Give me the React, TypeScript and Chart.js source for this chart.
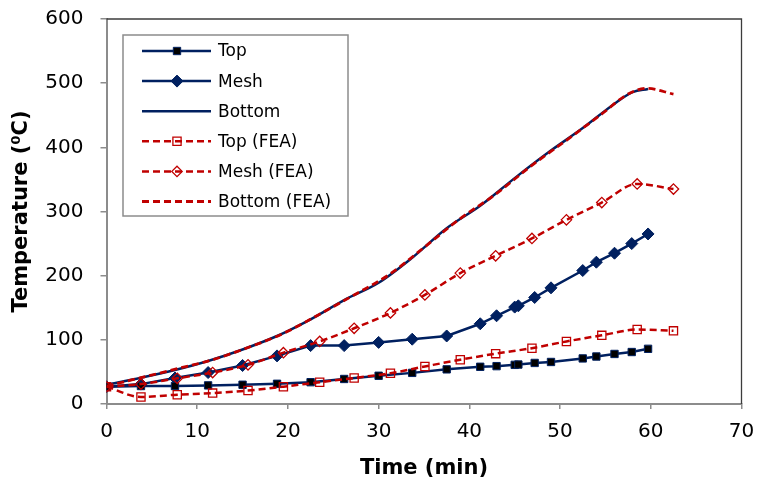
import React, { useEffect, useRef } from 'react';
import { Chart, registerables } from 'chart.js';

Chart.register(...registerables);

// ---- data ----
const timeMeasured = [0, 3.8, 7.55, 11.2, 15.0, 18.8, 22.5, 26.2, 30.0, 33.7, 37.5, 41.2, 43.0, 45.0, 45.4, 47.2, 49.0, 52.5, 54.0, 56.0, 57.9, 59.7];
const topMeasured = [27, 28, 28, 29, 30, 31.5, 34, 39, 44, 48.5, 54, 58, 59, 61, 61.5, 64, 65.5, 71, 74, 78, 81, 86];
const meshMeasured = [27, 31, 40.5, 49, 60, 75, 91, 91, 96, 101, 106, 125, 137.5, 151, 153, 166, 181, 208, 221, 235, 250, 265];

const timeBottom = [0, 3.8, 7.55, 11.2, 15.0, 18.8, 22.5, 26.2, 30.0, 33.7, 37.5, 41.2, 45.0, 48.8, 52.5, 56.0, 58.0, 59.7];
const bottomMeasured = [30, 41, 53, 67, 85, 106, 132, 162, 189, 228, 274, 309, 352, 393, 430, 468, 486, 491];

const timeFEA = [0, 3.8, 7.8, 11.7, 15.6, 19.5, 23.5, 27.3, 31.3, 35.1, 39.0, 42.9, 46.9, 50.7, 54.6, 58.5, 62.5];
const topFEA = [27, 11, 14.5, 17, 21, 27, 34, 40.5, 48, 58.5, 69, 78.5, 87, 97.5, 107, 116, 114];
const meshFEA = [27, 31, 40, 49, 61, 80, 97.5, 118, 142, 170, 204, 231, 258, 287, 314, 343, 335];

const timeBottomFEA = [0, 3.8, 7.8, 11.7, 15.6, 19.5, 23.5, 27.3, 31.3, 35.1, 39.0, 42.9, 46.9, 50.7, 54.6, 57.5, 59.5, 62.5];
const bottomFEA = [28, 41, 55, 69, 88, 110, 140, 170, 203, 245, 289, 327, 372, 411, 452, 483, 492, 483];

const xTicks = [0, 10, 20, 30, 40, 50, 60, 70];
const yTicks = [0, 100, 200, 300, 400, 500, 600];

const seriesLabels = ['Top', 'Mesh', 'Bottom', 'Top (FEA)', 'Mesh (FEA)', 'Bottom (FEA)'];

const NAVY = '#002060';
const RED = '#C00000';
const FONT = "'DejaVu Sans', sans-serif";

const toPts = (xs: number[], ys: number[]) => xs.map((x, i) => ({ x, y: ys[i] }));

function drawMarker(ctx: CanvasRenderingContext2D, style: string, x: number, y: number, r: number, fill: string, stroke: string, lw: number) {
  ctx.save();
  ctx.beginPath();
  if (style === 'rect') {
    const s = Math.SQRT1_2 * r;
    ctx.rect(x - s, y - s, 2 * s, 2 * s);
  } else if (style === 'rectRot') {
    ctx.moveTo(x - r, y);
    ctx.lineTo(x, y - r);
    ctx.lineTo(x + r, y);
    ctx.lineTo(x, y + r);
    ctx.closePath();
  }
  if (fill && fill !== 'transparent') {
    ctx.fillStyle = fill;
    ctx.fill();
  }
  ctx.setLineDash([]);
  ctx.lineWidth = lw;
  ctx.strokeStyle = stroke;
  ctx.stroke();
  ctx.restore();
}

const framePlugin = {
  id: 'frameAndLegend',
  afterDatasetsDraw(chart: any) {
    const ctx: CanvasRenderingContext2D = chart.ctx;
    const a = chart.chartArea;
    ctx.save();
    // top and right border
    ctx.strokeStyle = '#3c3c3c';
    ctx.lineWidth = 1.3;
    ctx.beginPath();
    ctx.moveTo(a.left, a.top);
    ctx.lineTo(a.right, a.top);
    ctx.lineTo(a.right, a.bottom);
    ctx.stroke();

    // legend box
    const bx = 123, by = 35, bw = 225, bh = 181;
    ctx.fillStyle = '#ffffff';
    ctx.fillRect(bx, by, bw, bh);
    ctx.strokeStyle = '#8c8c8c';
    ctx.lineWidth = 1.5;
    ctx.strokeRect(bx, by, bw, bh);

    const rowY0 = 51;
    const rowStep = 30.1;
    const lx0 = 142, lx1 = 211, mx = 177, tx = 218;
    chart.data.datasets.forEach((ds: any, i: number) => {
      const y = rowY0 + i * rowStep;
      ctx.save();
      ctx.strokeStyle = ds.borderColor;
      ctx.lineWidth = ds.borderWidth;
      ctx.setLineDash(ds.borderDash || []);
      ctx.beginPath();
      ctx.moveTo(lx0, y);
      ctx.lineTo(lx1, y);
      ctx.stroke();
      ctx.restore();
      if (ds.pointRadius > 0) {
        drawMarker(ctx, ds.pointStyle, mx, y, ds.pointRadius, ds.pointBackgroundColor, ds.pointBorderColor, ds.pointBorderWidth);
      }
      ctx.fillStyle = '#000';
      ctx.font = `17px ${FONT}`;
      ctx.textBaseline = 'middle';
      ctx.textAlign = 'left';
      ctx.fillText(ds.label, tx, y + 1);
    });
    ctx.restore();
  },
};

export default function App() {
  const ref = useRef<HTMLCanvasElement | null>(null);

  useEffect(() => {
    if (!ref.current) return;
    Chart.defaults.font.family = FONT;
    const chart = new Chart(ref.current, {
      type: 'line',
      data: {
        datasets: [
          {
            label: seriesLabels[0],
            data: toPts(timeMeasured, topMeasured),
            borderColor: NAVY,
            borderWidth: 2.5,
            pointStyle: 'rect',
            pointRadius: 5.2,
            pointBackgroundColor: '#000000',
            pointBorderColor: NAVY,
            pointBorderWidth: 1,
            tension: 0,
            order: 1,
          },
          {
            label: seriesLabels[1],
            data: toPts(timeMeasured, meshMeasured),
            borderColor: NAVY,
            borderWidth: 2.5,
            pointStyle: 'rectRot',
            pointRadius: 6,
            pointBackgroundColor: NAVY,
            pointBorderColor: NAVY,
            pointBorderWidth: 1,
            tension: 0,
            order: 1,
          },
          {
            label: seriesLabels[2],
            data: toPts(timeBottom, bottomMeasured),
            borderColor: NAVY,
            borderWidth: 2.5,
            pointRadius: 0,
            cubicInterpolationMode: 'monotone',
            order: 1,
          },
          {
            label: seriesLabels[3],
            data: toPts(timeFEA, topFEA),
            borderColor: RED,
            borderWidth: 2.5,
            borderDash: [7, 4],
            pointStyle: 'rect',
            pointRadius: 5.8,
            pointBackgroundColor: 'transparent',
            pointBorderColor: RED,
            pointBorderWidth: 1.3,
            cubicInterpolationMode: 'monotone',
            order: 0,
          },
          {
            label: seriesLabels[4],
            data: toPts(timeFEA, meshFEA),
            borderColor: RED,
            borderWidth: 2.5,
            borderDash: [7, 4],
            pointStyle: 'rectRot',
            pointRadius: 5.2,
            pointBackgroundColor: 'transparent',
            pointBorderColor: RED,
            pointBorderWidth: 1.3,
            cubicInterpolationMode: 'monotone',
            order: 0,
          },
          {
            label: seriesLabels[5],
            data: toPts(timeBottomFEA, bottomFEA),
            borderColor: RED,
            borderWidth: 2.8,
            borderDash: [7, 4],
            pointRadius: 0,
            cubicInterpolationMode: 'monotone',
            order: 0,
          },
        ] as any,
      },
      options: {
        responsive: false,
        animation: false,
        events: [],
        layout: { padding: { left: 0, top: 19, right: 15.5, bottom: 0 } },
        plugins: {
          legend: { display: false },
          tooltip: { enabled: false },
          title: { display: false },
        },
        scales: {
          x: {
            type: 'linear',
            min: xTicks[0],
            max: xTicks[xTicks.length - 1],
            afterBuildTicks: (s: any) => { s.ticks = xTicks.map((v) => ({ value: v })); },
            afterFit: (s: any) => { s.height = 87; s.paddingLeft = 0; s.paddingRight = 0; },
            ticks: { color: '#000', font: { size: 20 }, padding: 11, maxRotation: 0, autoSkip: false },
            grid: { display: true, drawOnChartArea: false, drawTicks: true, tickLength: 5, color: '#8c8c8c', lineWidth: 1.5 },
            border: { display: true, color: '#8c8c8c', width: 2 },
            title: {
              display: true,
              text: 'Time (min)',
              color: '#000',
              font: { size: 21, weight: 'bold' },
              padding: { top: 0, bottom: 10 },
            },
          },
          y: {
            type: 'linear',
            min: yTicks[0],
            max: yTicks[yTicks.length - 1],
            afterBuildTicks: (s: any) => { s.ticks = yTicks.map((v) => ({ value: v })); },
            afterFit: (s: any) => { s.width = 106.5; s.paddingTop = 0; s.paddingBottom = 0; },
            ticks: { color: '#000', font: { size: 20 }, padding: 17, autoSkip: false },
            grid: { display: true, drawOnChartArea: false, drawTicks: true, tickLength: 6, color: '#8c8c8c', lineWidth: 1.5 },
            border: { display: true, color: '#8c8c8c', width: 2 },
            title: {
              display: true,
              text: 'Temperature (\u2070C)',
              color: '#000',
              font: { size: 21, weight: 'bold' },
              padding: { top: 9, bottom: 0 },
            },
          },
        },
      } as any,
      plugins: [framePlugin],
    });
    return () => chart.destroy();
  }, []);

  return (
    <div style={{ position: 'absolute', left: 0, top: 0, width: 757, height: 491, background: '#fff' }}>
      <canvas ref={ref} width={757} height={491} style={{ display: 'block' }} />
    </div>
  );
}
